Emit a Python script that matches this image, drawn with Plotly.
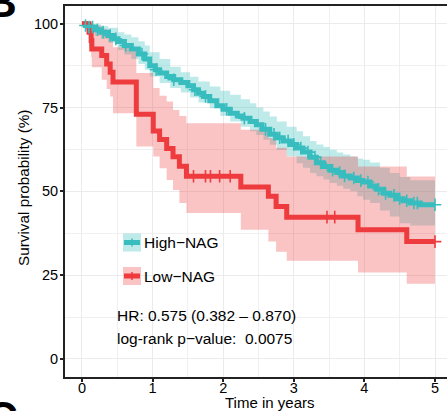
import numpy as np
import plotly.graph_objects as go

# ---------------- data ----------------
# High-NAG Kaplan-Meier curve (time in years, survival %)
high_t = [0, 0.05, 0.10, 0.18, 0.27, 0.37, 0.45, 0.51, 0.60, 0.70, 0.80, 0.89, 0.96, 1.04, 1.10, 1.20, 1.30, 1.40,
          1.50, 1.58, 1.65, 1.72, 1.81, 1.91, 2.00, 2.10, 2.20, 2.28, 2.38, 2.47, 2.55, 2.66, 2.75, 2.85, 2.95, 3.04,
          3.13, 3.23, 3.32, 3.42, 3.51, 3.61, 3.70, 3.80, 3.90, 3.98, 4.08, 4.17, 4.27, 4.36, 4.46, 4.55, 4.65, 4.79, 5.00]
high_s = [100, 99.5, 99, 98.2, 97.5, 96.5, 95.5, 94.7, 93.5, 92.5, 91, 89.5, 87.5, 86.3, 85.3, 84.3, 83.3, 82.5,
          81.5, 80.3, 79.3, 78.3, 77, 75.5, 74.5, 73.3, 72.5, 71.8, 70.8, 69.9, 68.5, 67, 66, 65, 64, 62.9,
          61.7, 60.2, 58.5, 57.4, 56.3, 55.6, 54.6, 54, 53.2, 52.8, 51.6, 50.6, 49.4, 48.8, 47.8, 47.2, 46.5, 46.0, 46.0]
# High-NAG confidence band
high_band_t = [0, 0.10, 0.18, 0.27, 0.37, 0.51, 0.60, 0.70, 0.80, 0.89, 0.96, 1.10, 1.25, 1.40, 1.53, 1.65, 1.81,
               1.96, 2.10, 2.25, 2.38, 2.47, 2.57, 2.66, 2.76, 2.90, 3.04, 3.13, 3.23, 3.32, 3.42, 3.51, 3.61, 3.70,
               3.80, 3.90, 3.98, 4.08, 4.22, 4.36, 4.50, 4.65, 5.00]
high_upper = [100, 100, 99.8, 99.3, 98.8, 97.5, 96.8, 96, 94.8, 93.5, 91.5, 89.5, 87.2, 85.5, 84.2, 82.8, 81.3,
              80, 78.8, 77.5, 76.3, 75, 73.8, 72.3, 70.8, 69.3, 67.9, 66.4, 65, 64, 63.2, 62.4, 61.6, 61,
              60.4, 59.8, 59.4, 58.6, 57, 55.5, 54.3, 53.3, 53.0]
high_lower = [100, 98, 96.5, 95.5, 94.3, 92.2, 90.8, 89.5, 88, 86.3, 84.3, 82.3, 80.8, 79.5, 78, 76.5, 74.8,
              72.5, 70.8, 69.3, 67.9, 66.8, 65.4, 63.9, 62.3, 60.5, 58.4, 57, 55.5, 54.5, 53.5, 52.5, 51.7, 50.8,
              50, 48.5, 47.5, 46.5, 44.3, 42.5, 40.5, 39.8, 39.8]
high_censor_t = [0.05, 0.10, 0.15, 0.22, 0.30, 0.40, 0.48, 0.62, 0.85, 1.05, 1.30, 1.60, 1.75, 2.05, 2.30, 2.60,
                 2.72, 2.80, 2.92, 3.00, 3.10, 3.20, 3.30, 3.38, 3.55, 3.65, 3.72, 3.85, 3.95, 4.05, 4.20, 4.30,
                 4.42, 4.50, 4.60, 4.70, 4.75, 5.00]

# Low-NAG Kaplan-Meier curve
low_t = [0, 0.10, 0.13, 0.14, 0.28, 0.35, 0.40, 0.44, 0.77, 1.01, 1.10, 1.20, 1.29, 1.38, 1.48, 2.25, 2.64, 2.75,
         2.90, 3.91, 4.60, 5.00]
low_s = [100, 97.5, 95, 92.5, 90.5, 88, 85.5, 82.6, 73, 68, 65.5, 62.8, 60.3, 57.5, 54.5, 51.3, 48.5, 45.5,
         42.3, 38.5, 35.0, 35.0]
low_lower = [100, 93, 90, 87, 83.3, 80.5, 78.3, 73.3, 63.4, 60.4, 56.9, 53.4, 50.4, 46.5, 43.5, 38.5, 35, 32,
             29.3, 25.8, 22.4, 22.4]
low_upper = [100, 100, 100, 99.5, 98.5, 97, 95, 93, 85.3, 80.8, 78.5, 76.8, 74.3, 72.5, 70.3, 68.4, 65.9, 63,
             60.4, 57.4, 54.4, 54.4]
low_censor_t = [1.58, 1.75, 1.82, 1.95, 2.10, 3.47, 3.58, 5.00]

group_names = ["High\u2212NAG", "Low\u2212NAG"]
x_ticks = [0, 1, 2, 3, 4, 5]
y_ticks = [0, 25, 50, 75, 100]
hr_text = "HR: 0.575 (0.382 \u2013 0.870)"
p_text = "log-rank p\u2212value:  0.0075"

# ---------------- style ----------------
TEAL = "#38BDBF"
RED = "#EE3B3E"
TEAL_FILL = "rgba(56,189,191,0.32)"
RED_FILL = "rgba(238,59,62,0.30)"
FONT = "Liberation Sans, Arial, sans-serif"

W, H = 447, 411
L, R, T, B = 65, 0, 6, 34
PW, PH = W - L - R, H - T - B


def PX(px):
    return (px - L) / PW


def PY(py):
    return (H - B - py) / PH


def step_value(ts, ss, t):
    idx = np.searchsorted(np.array(ts), t, side="right") - 1
    return [ss[i] for i in idx]


fig = go.Figure()

# bands
fig.add_trace(go.Scatter(x=high_band_t, y=high_lower, mode="lines", line=dict(width=0, shape="hv"),
                         showlegend=False, hoverinfo="skip"))
fig.add_trace(go.Scatter(x=high_band_t, y=high_upper, mode="lines", line=dict(width=0, shape="hv"),
                         fill="tonexty", fillcolor=TEAL_FILL, showlegend=False, hoverinfo="skip"))
fig.add_trace(go.Scatter(x=low_t, y=low_lower, mode="lines", line=dict(width=0, shape="hv"),
                         showlegend=False, hoverinfo="skip"))
fig.add_trace(go.Scatter(x=low_t, y=low_upper, mode="lines", line=dict(width=0, shape="hv"),
                         fill="tonexty", fillcolor=RED_FILL, showlegend=False, hoverinfo="skip"))

# curves
fig.add_trace(go.Scatter(x=high_t, y=high_s, mode="lines", line=dict(color=TEAL, width=5, shape="hv"),
                         name=group_names[0], showlegend=False))
fig.add_trace(go.Scatter(x=low_t, y=low_s, mode="lines", line=dict(color=RED, width=5, shape="hv"),
                         name=group_names[1], showlegend=False))

# censor marks
fig.add_trace(go.Scatter(x=high_censor_t, y=step_value(high_t, high_s, high_censor_t), mode="markers",
                         marker=dict(symbol="cross-thin", size=9, line=dict(color=TEAL, width=1.6)),
                         showlegend=False, hoverinfo="skip"))
fig.add_trace(go.Scatter(x=low_censor_t, y=step_value(low_t, low_s, low_censor_t), mode="markers",
                         marker=dict(symbol="cross-thin", size=9, line=dict(color=RED, width=1.6)),
                         showlegend=False, hoverinfo="skip"))

shapes = []
annotations = []

# manual legend
for i, (name, col, fill, cy) in enumerate([(group_names[0], TEAL, TEAL_FILL, 242.5),
                                          (group_names[1], RED, RED_FILL, 276)]):
    x0, x1 = 123, 141
    shapes.append(dict(type="rect", xref="paper", yref="paper", x0=PX(x0), x1=PX(x1), y0=PY(cy + 9), y1=PY(cy - 9),
                       fillcolor=fill, line=dict(width=0), layer="above"))
    shapes.append(dict(type="line", xref="paper", yref="paper", x0=PX(x0 + 1), x1=PX(x1 - 1), y0=PY(cy), y1=PY(cy),
                       line=dict(color=col, width=5), layer="above"))
    shapes.append(dict(type="line", xref="paper", yref="paper", x0=PX(132), x1=PX(132), y0=PY(cy - 4),
                       y1=PY(cy + 4), line=dict(color=col, width=1.5), layer="above"))
    annotations.append(dict(xref="paper", yref="paper", x=PX(142), y=PY(cy), text=name, showarrow=False,
                            xanchor="left", yanchor="middle", font=dict(family=FONT, size=15.5, color="black")))

annotations.append(dict(xref="paper", yref="paper", x=PX(115), y=PY(315), text=hr_text, showarrow=False,
                        xanchor="left", yanchor="middle", font=dict(family=FONT, size=15.5, color="black")))
annotations.append(dict(xref="paper", yref="paper", x=PX(115), y=PY(338), text=p_text, showarrow=False,
                        xanchor="left", yanchor="middle", font=dict(family=FONT, size=15.5, color="black")))

# axis titles
annotations.append(dict(xref="paper", yref="paper", x=PX(269), y=PY(402.5), text="Time in years", showarrow=False,
                        xanchor="center", yanchor="middle", font=dict(family=FONT, size=15, color="black")))
annotations.append(dict(xref="paper", yref="paper", x=PX(23), y=PY(188), text="Survival probability (%)",
                        showarrow=False, textangle=-90, xanchor="center", yanchor="middle",
                        font=dict(family=FONT, size=15.3, color="black")))

# panel letters (cut off at the figure edges)
annotations.append(dict(xref="paper", yref="paper", x=PX(19), y=PY(1), text="<b>B</b>", showarrow=False,
                        xanchor="right", yanchor="middle", font=dict(family=FONT, size=44, color="black")))
annotations.append(dict(xref="paper", yref="paper", x=PX(20), y=PY(417), text="<b>C</b>", showarrow=False,
                        xanchor="right", yanchor="middle", font=dict(family=FONT, size=44, color="black")))

axis_common = dict(showgrid=True, gridcolor="#EBEBEB", gridwidth=1.3,
                   showline=True, linecolor="#222222", linewidth=2,
                   ticks="outside", ticklen=3, tickwidth=1.5, tickcolor="#222222",
                   tickfont=dict(family=FONT, size=14.5, color="black"), zeroline=False,
                   minor=dict(showgrid=True, gridcolor="#F0F0F0", gridwidth=1))

fig.update_layout(
    width=W, height=H,
    margin=dict(l=L, r=R, t=T, b=B),
    plot_bgcolor="white", paper_bgcolor="white",
    showlegend=False,
    xaxis=dict(range=[-0.24, 5.17], tickvals=x_ticks, ticktext=[str(v) for v in x_ticks], mirror=True,
               ticklabelstandoff=-6, **axis_common),
    yaxis=dict(range=[-5.4, 105.3], tickvals=y_ticks, ticktext=[str(v) for v in y_ticks],
               ticklabelstandoff=-1, **axis_common),
    shapes=shapes,
    annotations=annotations,
)
fig.update_xaxes(minor=dict(tickvals=[0.5, 1.5, 2.5, 3.5, 4.5], ticks=""))
fig.update_yaxes(minor=dict(tickvals=[12.5, 37.5, 62.5, 87.5], ticks=""))

fig.write_html("out.html", config={"displayModeBar": False},
               post_script="document.body.style.margin='0';document.body.style.overflow='hidden';")
